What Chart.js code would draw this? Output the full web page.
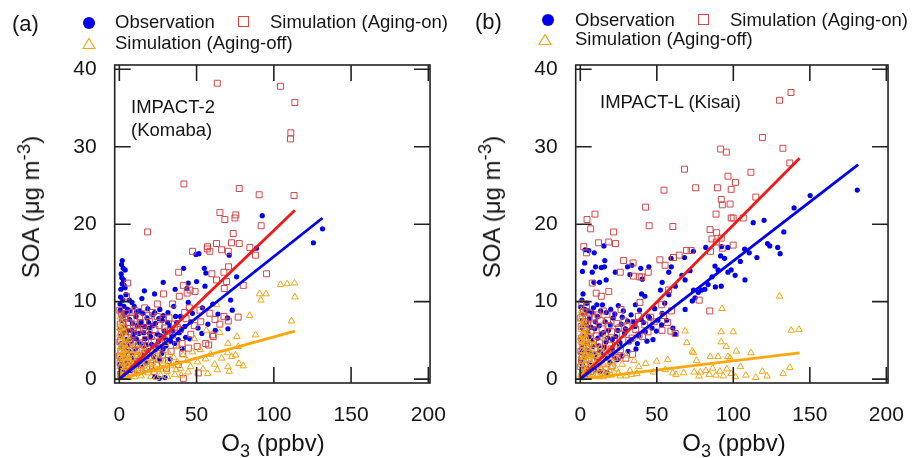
<!DOCTYPE html>
<html>
<head>
<meta charset="utf-8">
<script src="https://cdn.jsdelivr.net/npm/chart.js@4.4.1/dist/chart.umd.min.js"></script>
<style>
  body { margin: 0; width: 916px; height: 458px; overflow: hidden; background: #fff; position: relative;
         font-family: "Liberation Sans", Arial, sans-serif; color: #151515; }
  canvas { position: absolute; top: 0; }
  .t { position: absolute; white-space: nowrap; line-height: 1; transform: translateY(-50%); }
  .leg { font-size: 18.5px; }
  .tag { font-size: 22px; }
  .dot { position: absolute; width: 12px; height: 12px; border-radius: 50%; background: #0000f0; }
  .sq { position: absolute; width: 9px; height: 9px; border: 1.3px solid #d04848; }
  .tri { position: absolute; }
  .xt { position: absolute; top: 431px; font-size: 24px; line-height: 1; white-space: nowrap; transform: translateX(-50%); }
  .xt sub { font-size: 0.75em; vertical-align: -0.35em; line-height: 0; }
  .yt { position: absolute; font-size: 24px; line-height: 1; white-space: nowrap; transform: translate(-50%, -50%) rotate(-90deg); }
  .yt sup { font-size: 0.78em; vertical-align: 0.5em; line-height: 0; }
</style>
</head>
<body>
<canvas id="ca" width="458" height="458" style="left:0"></canvas>
<canvas id="cb" width="455" height="458" style="left:461px"></canvas>

<!-- legends + labels -->
<div class="t tag" style="left:12px;top:24px">(a)</div>
<div class="dot" style="left:83px;top:17px"></div>
<div class="t leg" style="left:115px;top:22px">Observation</div>
<div class="sq" style="left:238px;top:16px"></div>
<div class="t leg" style="left:270px;top:22px">Simulation (Aging-on)</div>
<svg class="tri" style="left:82px;top:37px" width="14" height="13"><polygon points="7,1.5 13,11.5 1,11.5" fill="none" stroke="#f0a818" stroke-width="1.2"/></svg>
<div class="t leg" style="left:115px;top:43px">Simulation (Aging-off)</div>
<div class="t leg" style="left:131px;top:107px">IMPACT-2</div>
<div class="t leg" style="left:131px;top:130px">(Komaba)</div>
<div class="yt" style="left:31px;top:207px">SOA (μg m<sup>-3</sup>)</div>
<div class="xt" style="left:273px">O<sub>3</sub> (ppbv)</div>

<div class="t tag" style="left:475px;top:22px">(b)</div>
<div class="dot" style="left:542px;top:14px"></div>
<div class="t leg" style="left:575px;top:20px">Observation</div>
<div class="sq" style="left:698px;top:14px"></div>
<div class="t leg" style="left:730px;top:20px">Simulation (Aging-on)</div>
<svg class="tri" style="left:538px;top:33px" width="14" height="13"><polygon points="7,1.5 13,11.5 1,11.5" fill="none" stroke="#f0a818" stroke-width="1.2"/></svg>
<div class="t leg" style="left:575px;top:39px">Simulation (Aging-off)</div>
<div class="t leg" style="left:600px;top:102px">IMPACT-L (Kisai)</div>
<div class="yt" style="left:492px;top:207px">SOA (μg m<sup>-3</sup>)</div>
<div class="xt" style="left:734px">O<sub>3</sub> (ppbv)</div>

<script>
const xTicks = [0, 50, 100, 150, 200]
const yTicks = [0, 10, 20, 30, 40]

// panel (a) IMPACT-2 Komaba : [O3 ppbv, SOA ug/m3]
const obsA = [
  [92.5,21.1],[131.5,19.4],[125.6,17.6],[88.8,16.9],[71.1,16.0],[49.6,16.1],[51.5,16.2],[41.6,14.3],[55.0,14.3],[56.0,13.7],
  [75.9,13.2],[50.0,12.6],[55.4,12.0],[28.4,12.5],[16.2,11.4],[22.8,11.0],[14.6,10.4],[36.1,11.6],[43.7,11.7],[72.0,10.2],
  [73.1,8.9],[70.0,7.9],[70.3,6.5],[44.6,12.4],[44.6,9.9],
  [1.9,15.3],[1.4,14.8],[2.5,14.3],[3.8,14.1],[1.2,13.6],[1.6,13.1],[2.7,12.8],[1.8,12.3],[3.1,12.1],[1.0,11.6],
  [3.7,11.8],[4.3,10.9],[0.8,10.6],[2.2,10.2],[6.5,10.2],[8.2,9.9],[0.5,9.7],[3.0,9.4],
  [5.3,9.0],[9.6,9.4],[13.1,8.8],[18.4,9.1],[21.7,8.3],[26.2,9.0],[31.5,8.6],[35.2,9.4],[39.6,8.1],[47.3,8.5],[53.8,9.2],[60.5,9.7],[63.8,8.4],
  [2.4,8.2],[6.7,7.7],[10.8,8.1],[14.2,7.4],[17.9,7.9],[23.4,7.2],[27.8,7.6],[32.6,6.9],[37.1,7.3],[42.4,6.8],[46.2,7.4],[50.9,6.6],[57.3,7.1],[62.1,6.3],
  [3.5,6.8],[7.9,6.3],[11.6,6.9],[15.8,6.0],[19.5,6.6],[24.7,5.8],[29.1,6.2],[34.0,5.5],[38.8,6.0],[45.6,5.2],[53.4,5.9],
  [1.3,5.6],[4.6,5.1],[8.8,5.5],[12.5,4.7],[16.7,5.2],[20.9,4.5],[25.3,4.9],[30.2,4.3],[35.8,4.6],[40.7,3.9],
  [2.1,4.0],[6.2,3.6],[10.3,3.9],[14.4,3.2],[18.6,3.7],[22.1,2.9],[27.4,3.3],[32.9,2.6],
  [0.9,2.7],[5.1,2.2],[9.4,2.5],[13.6,1.8],[17.2,2.1],[22.8,0.3],[25.9,0.1],[29.5,0.2],
  [1.6,1.4],[4.2,0.9],[7.5,1.1],
  [0.6,8.9],[1.8,7.6],[3.9,8.6],[5.1,6.2],[6.9,8.8],[8.5,7.2],[9.9,6.0],[11.2,8.7],[12.7,5.9],[13.9,7.0],
  [15.1,8.5],[16.4,6.8],[17.3,4.4],[19.0,7.3],[20.2,5.5],[21.5,6.9],[22.9,8.6],[24.3,4.1],[25.6,7.8],[26.8,5.6],
  [28.5,8.2],[29.9,5.2],[31.3,7.3],[33.2,4.9],[34.6,6.2],[36.4,8.1],[38.1,5.1],[40.3,6.4],[42.9,5.4],[3.2,3.1],
  [4.9,4.4],[7.1,4.9],[8.6,3.1],[11.0,5.2],[12.9,2.7],[15.7,4.3],[17.9,2.9],[19.6,5.9],[23.3,3.8],[26.1,2.6],
  [28.3,3.9],[0.4,6.4],[1.1,4.6],[2.6,6.0],[0.3,1.9]
]
const onA = [
  [63.4,38.2],[104.3,37.8],[113.6,35.7],[111.0,31.8],[110.8,31.0],[41.8,25.2],[77.6,24.6],[90.5,23.8],[113.1,23.7],[18.3,19.0],
  [65.1,21.5],[75.4,21.2],[68.3,20.6],[74.8,20.8],[91.8,19.8],[73.7,18.8],[72.6,17.6],[77.6,17.5],[62.9,17.5],[57.1,17.1],
  [56.9,16.8],[58.6,16.5],[47.4,16.5],[66.2,16.7],[70.5,16.5],[84.5,17.0],[88.1,16.0],[95.3,13.6],[70.7,14.5],[67.7,13.8],
  [59.9,13.6],[62.9,12.8],[80.2,12.1],[67.9,11.7],[69.4,12.6],[38.4,13.8],[41.4,12.1],[49.0,11.3],[43.9,11.1],[45.8,11.5],
  [38.8,10.7],[28.6,11.0],[24.6,9.7],[34.5,9.7],[16.4,9.2],[5.4,12.4],[4.7,10.7],[45.3,9.2],[52.2,8.9],[58.6,8.5],
  [67.7,8.1],[70.5,7.5],[76.9,8.0],[61.9,7.7],[65.1,7.1],[60.3,5.7],[60.8,5.5],[51.1,0.8],[41.4,0.1],
  [1.2,8.4],[3.4,7.8],[0.6,7.1],[2.8,6.5],[5.9,7.3],[8.3,8.6],[10.6,7.0],[13.2,8.0],[15.5,6.6],[19.7,7.4],[21.4,8.6],
  [25.8,6.9],[28.3,7.8],[31.1,6.2],[35.6,7.1],[39.4,6.4],[43.2,7.8],[48.5,6.9],[52.7,7.4],[55.9,4.6],[50.4,4.2],[57.8,4.4],
  [1.5,5.9],[4.1,5.4],[0.4,4.8],[7.2,5.0],[9.8,5.8],[12.4,4.5],[16.9,5.1],[18.2,3.9],[22.6,4.8],[26.4,4.1],[29.7,5.0],
  [33.5,3.6],[36.9,4.4],[41.1,3.3],[44.7,4.0],
  [1.0,3.6],[2.9,2.9],[5.6,3.2],[8.1,2.4],[11.3,3.0],[14.7,2.0],[20.3,2.5],[24.1,1.8],[30.5,1.4],[38.2,1.9],
  [0.5,2.1],[2.2,1.3],[4.8,1.7],[7.7,0.9],[12.0,1.2],[0.8,0.6],[3.5,0.4],
  [0.3,8.9],[1.9,8.0],[2.4,7.3],[4.5,8.5],[6.3,6.1],[7.6,7.9],[9.1,6.6],[10.1,8.9],[12.0,6.2],[13.8,7.3],
  [15.0,4.7],[17.1,6.3],[18.8,8.2],[20.7,5.5],[23.1,6.4],[24.5,8.1],[27.0,5.3],[29.3,6.6],[32.2,7.9],[34.4,5.7],
  [37.5,6.7],[40.6,4.6],[42.3,8.6],[46.3,5.8],[0.9,5.0],[2.1,4.2],[3.7,6.2],[5.0,4.6],[6.6,3.9],[8.9,4.8],
  [10.9,3.6],[13.3,3.8],[14.2,2.9],[16.0,3.3],[19.4,2.8],[21.6,3.6],[25.2,2.6],[27.9,3.1],[31.8,2.4],[0.2,3.0],
  [1.8,2.4],[3.9,2.2],[6.4,1.4],[9.6,1.9],[13.1,1.1],[17.8,1.5],[22.5,1.0]
]
const offA = [
  [104.3,12.2],[108.6,12.3],[113.4,12.4],[113.6,10.6],[90.8,11.0],[95.0,11.0],[91.6,10.2],[84.3,8.2],[111.4,7.5],[76.1,5.5],
  [88.2,5.7],[70.3,4.6],[77.0,4.2],[70.1,3.4],[72.7,2.9],[75.2,3.1],[77.4,2.0],[80.2,1.7],[70.3,1.6],[71.1,1.0],
  [63.0,9.6],[65.0,6.0],[52.4,3.8],[55.8,2.6],[58.9,3.2],[61.7,1.9],[63.4,1.2],[66.2,2.7],[54.1,1.3],[50.6,2.2],
  [47.3,3.5],[46.1,1.6],[43.8,2.4],[41.2,3.1],[39.5,1.4],[37.6,2.2],[35.1,2.8],[33.3,1.7],[31.8,3.4],[29.4,2.3],
  [27.6,1.3],[25.8,3.0],[24.2,1.9],[22.3,2.7],[20.9,1.2],[19.4,3.4],[17.6,2.2],[16.2,4.1],[14.8,1.6],[13.5,3.0],
  [12.1,2.1],[10.6,4.4],[9.2,1.4],[8.1,3.3],[7.0,2.4],[6.2,5.1],[5.3,1.8],[4.5,3.9],[3.8,2.8],[3.1,6.2],
  [2.6,4.6],[2.0,3.3],[1.6,7.3],[1.3,5.4],[1.0,2.5],[0.7,4.1],[0.5,1.6],[0.3,3.0],[0.9,0.7],[2.3,1.1],
  [4.1,0.6],[6.8,0.9],[11.3,0.7],[18.6,0.8],[26.7,0.5],[35.9,0.6],[44.5,0.9],[57.2,0.7],[38.4,4.2],[30.3,4.6],
  [48.6,5.2],[56.3,6.3],
  [0.2,6.6],[0.4,5.8],[0.6,8.0],[0.8,3.5],[1.1,6.5],[1.4,4.3],[1.7,2.1],[1.9,5.0],[2.2,6.7],[2.4,2.7],
  [2.8,3.7],[3.3,4.5],[3.5,1.5],[4.0,2.2],[4.3,5.4],[4.8,3.2],[5.6,2.6],[5.9,4.3],[6.5,1.3],[7.3,3.7],
  [7.6,1.8],[8.5,2.7],[9.7,3.6],[10.1,2.2],[11.0,1.3],[11.8,3.1],[12.6,1.6],[13.9,2.4],[15.3,3.2],[16.7,1.3],
  [18.1,2.7],[19.9,1.9],[21.4,2.1],[23.0,3.6],[25.1,1.2],[28.4,2.0],[30.9,1.0],[34.2,2.0],[36.8,1.2],[0.4,0.3],
  [1.2,0.2],[2.9,0.4],[5.7,0.2],[9.8,0.3],[14.1,0.4],[20.4,0.3],[24.0,0.2],[31.2,0.3],[40.1,0.5]
]
const fitObsA = [[0.5,0.1],[131.5,20.8]]
const fitOnA = [[0.5,0.1],[113.6,21.8]]
const fitOffA = [[0.5,0.0],[113.6,6.2]]

// panel (b) IMPACT-L Kisai
const obsB = [
  [181.0,24.4],[150.2,23.7],[139.7,22.1],[113.0,20.2],[120.1,20.5],[133.0,19.0],[122.3,17.5],[123.8,17.2],[129.0,17.0],[130.6,16.2],
  [115.4,15.7],[107.4,16.8],[110.4,16.3],[104.6,15.2],[107.6,12.8],[101.2,13.4],[98.6,14.1],[96.5,13.8],[92.2,17.1],[96.5,17.0],
  [91.7,15.9],[94.3,15.6],[88.0,14.6],[90.0,14.1],[86.1,13.2],[92.1,12.0],[88.3,11.9],[83.5,12.2],[81.4,11.6],[79.2,11.5],
  [77.1,11.2],[82.0,17.0],[73.9,16.5],[68.1,15.7],[59.3,15.6],[71.7,14.0],[66.4,13.4],[68.5,12.8],[62.1,12.0],[57.8,10.9],
  [55.2,9.8],[53.5,8.5],[60.5,6.6],[62.0,5.8],[74.0,11.5],[75.0,10.5],[73.2,10.1],[68.5,9.0],[59.5,14.5],[57.8,13.8],
  [53.5,12.5],[52.4,11.5],[44.8,14.5],[39.5,14.3],[33.7,14.7],[30.9,14.5],[32.4,13.5],[40.5,12.9],[42.2,10.7],[22.9,13.8],
  [15.8,14.5],[10.0,14.5],[13.7,14.4],[7.8,13.8],[2.9,15.0],[8.9,12.5],[12.6,12.5],[16.9,12.8],[1.8,11.0],[1.0,10.2],
  [9.1,16.3],[5.5,16.6],[15.4,17.2],[16.0,15.3],[1.4,13.9],[3.1,16.7],[36.0,9.6],[40.0,11.0],
  [45.2,7.9],[49.8,6.2],[53.1,7.0],[56.4,7.6],[47.5,5.1],
  [4.3,9.8],[8.6,9.2],[14.5,9.6],[19.9,9.0],[24.8,9.5],[28.1,8.8],[33.2,8.3],[38.7,8.9],[44.5,8.1],[48.6,9.1],
  [2.1,8.4],[6.0,7.8],[11.2,8.1],[16.3,7.4],[21.5,7.9],[26.7,7.1],[30.9,7.5],[35.8,6.8],[41.3,7.3],[46.9,6.6],[50.7,7.6],
  [1.2,6.7],[4.8,6.1],[9.5,6.5],[13.7,5.8],[18.4,6.3],[23.2,5.5],[28.9,5.9],[33.4,5.1],[38.1,5.6],[43.6,4.9],
  [0.8,5.2],[3.6,4.6],[7.4,5.0],[12.1,4.3],[16.8,4.8],[21.0,4.0],[25.7,4.4],[31.2,3.6],[36.4,3.9],
  [0.5,3.4],[2.7,2.9],[6.3,3.3],[10.6,2.6],[14.9,3.0],[19.3,2.2],[24.1,2.5],
  [1.5,1.8],[4.4,1.4],[8.2,1.7],[12.8,1.0],[17.5,0.8],[0.7,0.5],[3.2,0.3],
  [0.3,9.3],[1.4,7.6],[2.9,9.0],[3.8,7.1],[5.1,8.8],[6.9,6.7],[7.7,8.6],[9.9,7.4],[10.8,9.6],[12.4,6.9],
  [13.3,8.8],[15.1,6.0],[17.0,8.6],[17.9,5.3],[19.6,7.0],[20.9,5.1],[22.6,8.4],[24.5,6.3],[25.9,4.7],[27.4,8.0],
  [29.5,6.5],[32.0,4.8],[34.6,7.4],[37.3,4.6],[39.8,7.7],[42.5,6.1],[0.9,4.0],[2.3,5.5],[4.1,3.7],[5.9,5.4],
  [8.1,4.2],[9.8,3.2],[11.5,5.3],[13.4,3.6],[15.6,4.1],[17.1,2.7],[19.8,3.4],[22.3,2.8],[27.2,3.0],[0.4,2.2],
  [2.0,0.9],[6.1,2.1],[9.3,1.2]
]
const onB = [
  [137.7,37.0],[130.2,36.0],[119.0,31.2],[132.4,29.8],[136.9,27.9],[114.7,23.5],[91.7,29.7],[95.4,29.3],[68.1,27.1],[111.5,26.7],
  [96.5,26.2],[101.4,25.4],[75.4,24.7],[89.6,24.7],[54.7,24.4],[98.6,24.5],[92.1,23.2],[92.8,22.5],[97.9,22.6],[88.7,21.3],
  [98.6,20.8],[99.9,20.8],[106.5,20.8],[42.7,22.2],[45.0,19.8],[60.5,19.7],[9.6,21.3],[4.4,20.6],[6.8,19.4],[21.8,19.0],
  [18.6,17.7],[23.0,17.5],[11.9,17.6],[2.3,17.1],[4.0,16.3],[84.8,19.3],[89.1,18.9],[86.0,18.1],[92.1,18.2],[92.8,16.9],
  [99.9,17.3],[69.4,16.6],[72.4,16.6],[64.6,16.0],[60.9,15.7],[52.0,15.4],[55.4,14.7],[28.3,15.3],[34.5,15.0],[85.1,16.5],
  [88.9,17.7],[44.4,13.8],[40.1,13.2],[34.7,13.3],[38.6,13.2],[26.1,13.8],[7.8,12.4],[10.4,11.1],[13.7,10.7],[18.6,11.3],
  [26.6,9.0],[39.0,9.9],[57.7,11.5],[53.2,9.6],[59.6,8.8],[54.3,8.2],[57.1,7.3],[77.7,10.2],[84.6,8.8],[38.0,8.1],
  [46.0,8.0],[48.2,7.4],[53.4,6.3],[59.2,6.2],[62.0,5.9],[1.0,9.8],[4.0,9.4],
  [1.5,8.2],[3.3,7.4],[0.6,6.8],[2.5,5.9],[5.4,7.9],[8.7,7.0],[11.6,8.3],[14.2,6.5],[17.8,7.6],[20.4,6.1],[23.9,7.2],
  [27.5,5.8],[30.6,6.9],[33.8,5.3],[36.2,6.4],[40.7,5.5],[44.3,6.1],
  [1.1,4.8],[4.2,4.3],[0.4,3.6],[6.9,5.2],[9.3,3.9],[12.5,4.7],[15.6,3.4],[19.1,4.4],[22.7,3.0],[26.2,3.8],[29.8,2.7],[34.1,3.2],
  [0.8,2.4],[2.9,1.8],[5.7,2.6],[8.4,1.5],[11.9,2.1],[16.3,1.3],[20.8,1.7],[1.7,0.8],[4.6,0.5],
  [0.3,7.9],[2.0,8.7],[2.8,6.6],[4.6,7.0],[6.3,8.5],[7.1,6.2],[9.6,8.0],[10.4,5.6],[13.0,7.6],[15.0,8.8],
  [16.3,5.7],[18.7,6.9],[21.3,8.3],[22.0,5.1],[25.1,6.6],[28.6,7.5],[31.7,5.0],[35.1,7.3],[38.4,5.7],[42.1,7.0],
  [0.7,5.3],[1.9,4.1],[3.5,5.1],[5.0,3.4],[7.8,4.5],[10.7,3.1],[13.9,4.0],[17.4,3.0],[20.2,3.9],[24.3,2.8],
  [0.3,1.6],[1.3,2.9],[3.6,1.2],[6.8,1.0],[10.0,1.3],[14.6,0.8]
]
const offB = [
  [130.2,10.7],[92.6,9.1],[68.5,6.2],[69.6,4.7],[92.1,6.1],[99.9,6.1],[137.8,6.3],[142.9,6.4],[92.1,4.8],[95.4,4.2],
  [73.2,3.6],[85.0,2.9],[90.0,2.9],[96.5,2.9],[97.9,2.7],[111.5,3.4],[76.0,2.4],[73.9,3.4],[102.0,3.6],[136.9,1.5],
  [132.6,0.7],[114.7,0.2],[78.5,0.9],[82.0,1.1],[84.3,0.6],[86.5,1.4],[88.7,0.5],[91.2,1.0],[93.5,0.4],[95.8,1.3],
  [98.6,0.7],[101.4,0.3],[104.7,1.6],[108.2,0.5],[122.0,0.4],[119.0,1.0],
  [42.7,2.0],[50.0,2.3],[57.1,2.5],[60.4,0.8],[62.6,0.6],[67.5,0.8],[74.4,0.9],[77.6,0.4],[55.5,1.2],[47.8,0.9],
  [38.2,1.6],[35.1,2.4],[32.4,1.1],[29.8,3.1],[27.3,1.9],[24.9,0.8],[22.6,2.7],[20.4,1.5],[18.3,3.6],[16.5,2.2],
  [14.8,0.9],[13.2,4.1],[11.7,2.6],[10.3,1.3],[9.0,3.4],[7.8,5.0],[6.7,2.0],[5.7,3.9],[4.8,6.1],[4.0,1.2],
  [3.3,4.7],[2.7,7.2],[2.2,2.8],[1.8,5.6],[1.4,8.4],[1.1,3.7],[0.8,6.4],[0.6,1.9],[0.4,4.9],[0.3,7.7],
  [0.5,0.6],[1.6,0.3],[3.0,0.9],[5.2,0.4],[8.3,0.6],[12.1,0.3],[17.6,0.5],[26.0,0.4],[33.7,0.6],[15.9,5.3],[24.1,4.4],
  [0.2,5.4],[0.5,3.0],[0.7,8.8],[0.9,5.0],[1.0,2.3],[1.2,6.9],[1.5,4.3],[1.7,1.4],[1.9,7.5],[2.1,4.9],
  [2.4,3.6],[2.6,5.8],[2.9,2.0],[3.1,6.3],[3.5,3.1],[3.8,5.3],[4.2,2.5],[4.5,4.0],[5.0,3.0],[5.4,1.6],
  [6.0,4.6],[6.3,2.9],[7.1,3.3],[7.4,1.4],[8.0,2.4],[8.7,4.3],[9.6,2.0],[10.8,3.0],[11.3,1.7],[12.5,2.9],
  [13.6,1.4],[14.3,3.3],[15.4,1.8],[17.0,2.7],[19.1,1.1],[21.3,2.2],[23.5,1.3],[0.3,0.2],[0.9,0.9],[2.4,0.5],
  [4.4,0.3],[6.9,0.4],[10.9,0.5],[15.0,0.3],[20.1,0.5],[30.0,0.4],[37.0,0.7]
]
const fitObsB = [[0.5,0.1],[181.6,27.7]]
const fitOnB = [[0.5,0.1],[143.3,28.5]]
const fitOffB = [[0.5,0.0],[143.3,3.4]]

const BLUE = '#0000f0'
const RED_LINE = '#f01818'
const RED_PT = '#d04848'
const ORANGE_PT = '#f0a818'
const ORANGE_LINE = '#ffa60a'
const INK = '#151515'

Chart.defaults.font.family = '"Liberation Sans", Arial, sans-serif'
Chart.defaults.color = INK

const xy = arr => arr.map(p => ({x: p[0], y: p[1]}))

// box round the plot and ticks pointing inward on all four sides
const frameTicks = {
    id: 'frameTicks',
    afterDatasetsDraw(chart) {
        const {ctx, chartArea: a, scales} = chart
        const len = 16
        ctx.save()
        ctx.strokeStyle = '#222'
        ctx.lineWidth = 1.6
        ctx.strokeRect(a.left, a.top, a.right - a.left, a.bottom - a.top)
        ctx.beginPath()
        scales.x.ticks.forEach(t => {
            const px = scales.x.getPixelForValue(t.value)
            ctx.moveTo(px, a.bottom); ctx.lineTo(px, a.bottom - len)
            ctx.moveTo(px, a.top); ctx.lineTo(px, a.top + len)
        })
        scales.y.ticks.forEach(t => {
            const py = scales.y.getPixelForValue(t.value)
            ctx.moveTo(a.left, py); ctx.lineTo(a.left + len, py)
            ctx.moveTo(a.right, py); ctx.lineTo(a.right - len, py)
        })
        ctx.stroke()
        ctx.restore()
    }
}

function fitLine(data, color) {
    return {type: 'line', data: xy(data), borderColor: color, borderWidth: 2.8,
            pointRadius: 0, fill: false, order: 0}
}

function make_panel(id, obs, on, off, fitObs, fitOn, fitOff, padRight) {
    const config = {
        type: 'scatter',
        data: {
            datasets: [
                fitLine(fitObs, BLUE),
                fitLine(fitOn, RED_LINE),
                fitLine(fitOff, ORANGE_LINE),
                {data: xy(off), pointStyle: 'triangle', pointRadius: 3.8, borderWidth: 1,
                 borderColor: ORANGE_PT, backgroundColor: 'rgba(0,0,0,0)', order: 1},
                {data: xy(on), pointStyle: 'rect', pointRadius: 4.2, borderWidth: 1,
                 borderColor: RED_PT, backgroundColor: 'rgba(0,0,0,0)', order: 2},
                {data: xy(obs), pointStyle: 'circle', pointRadius: 2.6, borderWidth: 0,
                 backgroundColor: BLUE, order: 3}
            ]
        },
        options: {
            responsive: false,
            animation: false,
            events: [],
            layout: {padding: {left: 0, top: 65, right: padRight, bottom: 0}},
            plugins: {legend: {display: false}, tooltip: {enabled: false}},
            scales: {
                x: {
                    type: 'linear', min: -3, max: 201.1,
                    afterBuildTicks: s => { s.ticks = xTicks.map(v => ({value: v})) },
                    afterFit: s => { s.height = 75 },
                    grid: {display: false}, border: {display: false},
                    ticks: {padding: 12, font: {size: 21}, maxRotation: 0, autoSkip: false},
                    title: {display: false}
                },
                y: {
                    type: 'linear', min: -0.5, max: 40.55,
                    afterBuildTicks: s => { s.ticks = yTicks.map(v => ({value: v})) },
                    afterFit: s => { s.width = 114.7 },
                    grid: {display: false}, border: {display: false},
                    ticks: {padding: 10, font: {size: 21}},
                    title: {display: false}
                }
            }
        },
        plugins: [frameTicks]
    }
    return new Chart(document.getElementById(id), config)
}

make_panel('ca', obsA, onA, offA, fitObsA, fitOnA, fitOffA, 27)
make_panel('cb', obsB, onB, offB, fitObsB, fitOnB, fitOffB, 24)
</script>
</body>
</html>
